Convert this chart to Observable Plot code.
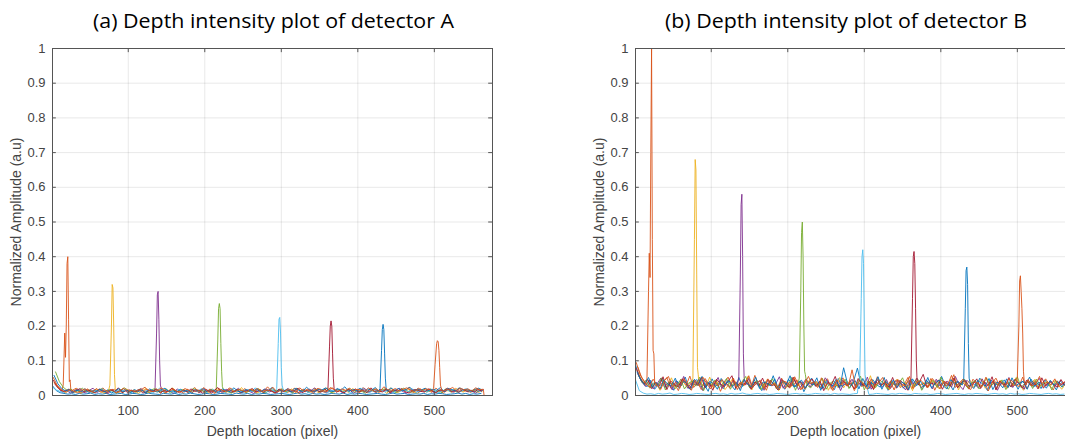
<!DOCTYPE html>
<html>
<head>
<meta charset="utf-8">
<script src="https://cdn.jsdelivr.net/npm/d3@7"></script>
<script src="https://cdn.jsdelivr.net/npm/@observablehq/plot@0.6"></script>
<style>
  html, body { margin: 0; padding: 0; background: #fff; }
  body { width: 1065px; height: 441px; overflow: hidden; position: relative; }
  .panel { position: absolute; top: 0; width: 500px; height: 441px; }
  .panel svg { max-width: none !important; }
  #titles { position: absolute; left: 0; top: 0; }
</style>
</head>
<body>
<div id="pa" class="panel" style="left:0px"></div>
<div id="pb" class="panel" style="left:583px"></div>
<svg id="titles" width="1065" height="40"></svg>
<script>
// ---------------- DATA ----------------
const titleA = "(a) Depth intensity plot of detector A";
const titleB = "(b) Depth intensity plot of detector B";
const xLabel = "Depth location (pixel)";
const yLabel = "Normalized Amplitude (a.u)";
const xTicks = [100, 200, 300, 400, 500];
const yTicks = [0, 0.1, 0.2, 0.3, 0.4, 0.5, 0.6, 0.7, 0.8, 0.9, 1];
const seriesColors = ["#0072BD", "#D95319", "#EDB120", "#7E2F8E", "#77AC30", "#4DBEEE", "#A2142F", "#0072BD", "#D95319"];

// noise floor per series (per-mille of full scale), one sample every 5 depth pixels
const noiseA1 = [28,14,8,6,4,5,3,6,4,5,7,3,5,4,6,3,4,5,6,3,4,6,5,3,4,7,5,4,3,6,5,4,6,3,5,4,7,5,3,4,6,5,3,4,6,5,4,3,7,5,4,6,3,5,4,6,5,3,4,5,6,4,3,5,7,4,5,3,6,4,5,3,4,6,5,4,7,3,5,4,6,5,3,4,5,6,4,3,5,7,4,5,6,3,4,5,4,6,3,5,4,6,5,3,4,5,7,4,6,3,5,4,6];
const noiseA2 = [52,30,18,24,9,15,21,7,13,19,8,16,11,22,6,14,18,9,12,20,7,15,10,17,24,8,13,19,6,16,11,21,9,14,7,18,12,23,8,15,10,19,6,13,17,9,22,11,14,7,20,12,16,8,18,10,25,13,7,15,19,9,12,21,8,16,11,14,6,20,13,9,17,22,10,15,7,19,12,16,8,23,11,14,18,9,13,20,7,15,10,17,12,24,8,16,19,11,14,9,21,13,7,18,15,10,22,12,16,9,14,19,11];
const noiseA3 = [38,22,14,8,17,11,20,6,13,16,9,19,12,7,15,21,10,14,8,18,12,16,6,13,20,9,15,11,18,7,14,22,10,13,17,8,12,19,9,16,11,6,15,20,12,8,17,13,10,23,9,14,18,7,12,16,11,20,8,13,15,9,19,12,6,17,14,10,21,8,13,16,11,7,18,12,15,9,20,14,10,17,8,13,19,11,15,6,22,12,9,16,14,18,10,7,13,20,11,15,8,17,12,14,9,21,13,10,16,12,18,9,14];
const noiseA4 = [33,20,10,16,7,13,19,11,8,15,21,9,14,12,6,17,10,13,20,8,15,11,18,7,12,16,9,22,13,10,14,6,19,11,15,8,17,12,9,20,13,7,16,10,14,18,8,12,21,9,15,11,6,17,13,19,10,14,8,16,12,20,9,13,7,18,11,15,22,10,14,8,16,12,19,9,13,17,7,11,15,20,10,14,8,18,12,16,9,13,21,11,7,15,17,10,14,12,19,8,13,16,11,20,9,14,12,18,10,15,7,13,17];
const noiseA5 = [68,40,24,15,19,9,14,21,11,16,8,13,20,10,17,12,7,15,22,11,14,9,18,13,8,16,20,10,12,19,7,15,11,17,14,9,21,12,16,8,13,19,10,15,24,11,7,14,18,12,9,16,13,20,10,8,17,12,15,19,11,14,7,21,13,16,9,12,18,10,15,22,8,13,17,11,14,20,9,16,12,7,18,13,10,15,19,11,14,8,16,21,12,9,17,13,15,10,19,11,14,8,20,12,16,9,13,18,11,15,10,17,12];
const noiseA6 = [24,16,12,9,15,7,13,18,10,14,8,16,11,20,9,13,6,15,12,17,10,8,14,19,11,16,7,13,21,10,15,12,9,18,11,14,8,16,13,20,9,12,17,10,14,7,15,19,11,13,8,16,12,22,10,14,9,18,13,11,15,7,17,12,20,10,14,8,16,13,19,11,9,15,12,18,10,14,7,16,13,21,11,9,17,12,15,10,19,8,14,12,16,11,20,9,13,15,10,18,12,8,14,17,11,16,9,13,19,12,10,15,11];
const noiseA7 = [44,26,15,11,18,8,14,20,10,16,12,7,19,13,9,17,11,22,8,14,16,10,13,20,7,15,12,18,9,14,11,21,13,8,16,10,19,12,15,7,17,11,14,23,9,13,16,10,18,8,12,15,20,11,14,9,17,13,7,19,10,16,12,14,21,8,13,18,11,15,9,20,12,16,10,14,7,17,13,19,11,15,8,22,12,14,10,18,9,16,13,20,11,7,15,17,12,10,19,14,8,16,13,21,11,15,9,18,12,14,10,17,13];
const noiseA8 = [58,34,20,13,17,9,15,11,19,8,14,12,18,10,16,7,13,20,11,15,9,17,12,14,8,19,13,10,16,21,11,14,9,18,12,15,7,17,13,20,10,16,12,8,19,14,11,22,13,9,17,15,12,20,10,18,14,23,11,16,13,19,9,21,15,12,24,14,10,18,16,22,13,11,20,15,25,12,17,14,21,10,19,16,23,13,18,11,22,15,20,14,17,24,12,19,16,21,13,18,15,23,11,20,17,14,22,16,19,12,18,21,15];
const noiseA9 = [36,22,14,10,17,12,8,15,19,11,13,20,9,16,12,18,7,14,21,10,15,12,17,9,19,13,11,16,22,8,14,18,12,10,20,15,9,17,13,23,11,16,8,19,14,12,21,10,17,15,9,18,13,20,11,16,14,24,10,17,12,19,15,9,22,13,18,11,16,20,14,10,23,17,12,19,15,21,13,18,16,11,22,14,19,12,25,17,15,20,13,18,22,16,11,21,14,19,17,24,12,20,15,18,23,14,21,16,19,13,22,17,18];

const noiseB1 = [88,55,38,25,44,18,33,50,22,39,15,41,28,53,19,35,46,24,31,12,48,27,37,20,43,30,16,52,26,38,21,45,33,14,40,29,57,23,36,18,47,32,25,42,11,34,50,27,39,20,44,30,17,49,25,36,22,41,79,28,35,19,46,31,24,52,15,38,29,43,21,37,48,26,33,18,45,30,40,23,55,28,35,16,42,31,47,20,38,26,50,33,14,44,29,36,22,48,25,39,18,41,32,53,24,37,20,45,28,34,16,43,30];
const noiseB2 = [95,60,42,30,18,47,26,39,52,21,35,14,44,29,56,23,38,17,49,31,25,42,12,36,53,27,40,19,46,33,22,58,28,37,15,44,31,24,50,20,39,27,45,16,34,55,29,41,22,37,48,18,33,26,51,30,43,14,38,25,47,32,20,54,28,40,17,36,45,23,31,52,19,42,29,35,24,49,15,38,44,27,33,60,22,40,30,18,47,35,25,41,13,36,50,28,39,21,45,32,26,53,19,37,43,24,34,48,29,16,42,31,38];
const noiseB3 = [72,48,30,40,22,36,15,45,28,51,19,34,42,25,38,13,47,31,26,53,20,37,44,17,32,49,24,39,28,55,16,41,33,23,46,29,37,14,43,30,21,50,27,35,18,44,32,39,24,48,15,36,28,52,22,40,31,19,45,34,26,57,20,38,29,43,17,35,47,25,33,41,14,50,28,37,22,46,31,19,42,34,27,53,16,39,30,45,23,36,48,21,33,40,18,44,29,37,25,51,32,15,42,28,47,20,35,39,26,43,31,18,37];
const noiseB4 = [62,40,26,45,19,33,50,24,38,16,43,29,55,21,36,31,47,14,40,27,34,52,20,37,25,44,18,39,30,49,23,35,42,15,46,28,33,54,21,38,27,45,17,32,48,24,41,30,19,51,36,26,43,14,39,31,47,22,35,28,53,18,40,33,25,46,20,37,44,29,16,42,34,50,23,31,38,19,47,27,36,41,24,55,30,17,44,33,39,21,48,26,35,42,15,37,29,52,23,40,32,18,45,28,36,49,21,34,41,26,38,30,44];
const noiseB5 = [58,36,44,21,37,28,51,16,39,32,24,47,19,35,42,27,53,14,38,30,45,22,33,49,18,40,26,36,55,23,31,43,17,38,29,48,20,34,41,25,52,15,37,30,44,22,39,27,50,18,35,42,24,33,47,20,38,29,56,16,40,31,23,45,36,19,43,28,34,51,21,37,26,46,15,39,32,44,24,53,30,18,41,35,27,48,22,36,43,19,33,50,25,38,29,45,17,40,31,54,23,36,42,20,47,28,34,39,16,44,30,25,41];
const noiseB6 = [45,14,7,4,5,3,6,4,5,7,3,4,6,5,3,4,6,5,4,3,5,6,4,5,3,6,4,5,7,4,3,5,6,4,5,3,4,6,5,4,3,5,6,4,5,3,4,6,5,4,5,3,6,4,5,4,3,5,6,4,5,3,4,6,5,4,3,5,4,6,5,4,3,6,5,4,5,3,4,6,5,3,4,5,6,4,3,5,4,6,5,4,3,5,6,4,5,3,6,4,5,3,4,6,5,4,3,5,6,4,5,3,4];
const noiseB7 = [78,50,33,46,20,39,28,54,17,42,31,25,48,36,19,44,29,52,22,38,15,47,33,26,41,57,21,35,30,45,18,39,27,50,24,43,32,16,46,37,23,53,29,40,20,35,48,26,42,14,38,31,55,22,44,28,36,19,49,33,25,41,17,46,30,38,24,52,21,43,34,15,47,28,39,61,23,36,32,45,18,40,27,50,22,37,43,26,33,48,20,39,29,54,16,42,31,36,25,47,35,21,44,30,38,19,51,27,40,33,24,46,29];
const noiseB8 = [68,44,31,52,24,38,19,45,33,27,50,21,40,36,16,47,29,55,23,41,34,18,49,30,43,26,37,14,46,32,25,53,20,39,35,28,48,17,42,31,57,24,36,44,21,38,30,51,15,40,33,27,46,22,80,35,29,43,19,49,26,37,32,54,18,41,28,45,23,39,34,16,48,30,42,25,52,21,37,44,28,19,46,33,40,24,55,31,20,43,36,27,49,17,39,32,45,23,51,29,35,42,18,47,26,38,33,21,44,30,40,25,36];
const noiseB9 = [82,52,36,24,47,30,18,43,55,26,38,21,49,32,15,44,28,53,35,19,41,27,46,33,22,50,17,39,31,57,24,36,44,20,48,29,34,16,42,38,25,54,30,19,46,33,40,23,51,28,36,14,45,31,39,26,74,21,43,34,18,48,29,37,52,24,41,16,46,33,27,55,20,38,44,30,25,49,35,19,42,31,58,23,36,47,28,17,40,34,26,53,21,45,32,38,24,50,29,43,18,37,46,27,34,55,22,40,31,48,25,36,42];

// reflection peaks [depth pixel, amplitude] per series
const peaksA = [
  [],
  [[13,0.012],[15,0.03],[17,0.18],[18,0.11],[19,0.2],[20,0.38],[21,0.40],[22,0.22],[23,0.04],[24,0.045],[25,0.015]],
  [[74,0.012],[76,0.03],[78,0.2],[79,0.32],[80,0.31],[81,0.2],[82,0.06],[83,0.02],[85,0.012]],
  [[133,0.01],[135,0.02],[137,0.18],[138,0.29],[139,0.30],[140,0.22],[141,0.1],[142,0.03],[144,0.012]],
  [[213,0.012],[215,0.02],[217,0.16],[218,0.25],[219,0.265],[220,0.25],[221,0.15],[222,0.07],[223,0.025],[225,0.015]],
  [[292,0.012],[294,0.02],[296,0.15],[297,0.22],[298,0.225],[299,0.18],[300,0.08],[301,0.03],[303,0.012]],
  [[359,0.012],[361,0.02],[363,0.14],[364,0.2],[365,0.215],[366,0.2],[367,0.12],[368,0.05],[369,0.02],[371,0.012]],
  [[427,0.012],[429,0.02],[431,0.13],[432,0.19],[433,0.205],[434,0.19],[435,0.12],[436,0.05],[437,0.02],[439,0.012]],
  [[497,0.012],[499,0.02],[501,0.09],[503,0.15],[504,0.158],[505,0.155],[506,0.13],[507,0.08],[508,0.03],[510,0.012]]
];
const peaksB = [
  [],
  [[14,0.03],[16,0.05],[18,0.30],[19,0.41],[20,0.34],[21,0.70],[22,1.0],[23,0.45],[24,0.13],[25,0.12],[26,0.04],[27,0.03]],
  [[74,0.03],[76,0.05],[78,0.45],[79,0.68],[80,0.65],[81,0.35],[82,0.08],[83,0.06],[84,0.03]],
  [[134,0.03],[136,0.05],[138,0.35],[139,0.55],[140,0.58],[141,0.4],[142,0.12],[143,0.05],[145,0.03]],
  [[213,0.03],[215,0.05],[217,0.3],[218,0.47],[219,0.50],[220,0.4],[221,0.2],[222,0.07],[223,0.06],[225,0.03]],
  [[292,0.03],[294,0.05],[296,0.28],[297,0.40],[298,0.42],[299,0.38],[300,0.2],[301,0.06],[303,0.03]],
  [[359,0.03],[361,0.05],[363,0.28],[364,0.40],[365,0.415],[366,0.38],[367,0.25],[368,0.1],[369,0.04],[371,0.03]],
  [[428,0.03],[430,0.05],[432,0.25],[433,0.36],[434,0.37],[435,0.32],[436,0.15],[437,0.05],[439,0.03]],
  [[498,0.03],[500,0.05],[502,0.2],[503,0.33],[504,0.345],[505,0.3],[506,0.25],[507,0.18],[508,0.07],[509,0.04],[511,0.03]]
];
// zero-padded tail after the last recorded depth sample
const tailA = [[565, 0], [576, 0]];
const tailB = [[565, 0], [576, 0]];

const xDomain = [1, 576];
const sampleStep = 5;
const lastSample = 564;

// ---------------- BUILD ----------------
function buildSeries(noiseList, peaks, tail) {
  return noiseList.map((arr, k) => {
    const pk = peaks[k];
    const lo = pk.length ? pk[0][0] : Infinity;
    const hi = pk.length ? pk[pk.length - 1][0] : -Infinity;
    let pts = arr.map((v, i) => [1 + (k % sampleStep) + sampleStep * i, v / 1000])
      .filter(([x]) => x <= lastSample && (x < lo || x > hi));
    pts = pts.concat(pk);
    if (k === noiseList.length - 1) pts = pts.concat(tail);
    pts.sort((a, b) => a[0] - b[0]);
    return pts.map(([x, y]) => ({x, y}));
  });
}

const seriesA = buildSeries([noiseA1,noiseA2,noiseA3,noiseA4,noiseA5,noiseA6,noiseA7,noiseA8,noiseA9], peaksA, tailA);
const seriesB = buildSeries([noiseB1,noiseB2,noiseB3,noiseB4,noiseB5,noiseB6,noiseB7,noiseB8,noiseB9], peaksB, tailB);

function panel(series) {
  const axisColor = "#555";
  const svg = Plot.plot({
    width: 500, height: 441,
    marginLeft: 52, marginRight: 8, marginTop: 48, marginBottom: 46,
    style: {fontFamily: "'Liberation Sans', Arial, sans-serif", fontSize: "13px", color: "#444", background: "transparent"},
    x: {domain: xDomain},
    y: {domain: [0, 1]},
    marks: [
      Plot.gridX(xTicks, {stroke: "#000", strokeOpacity: 0.09}),
      Plot.gridY(yTicks, {stroke: "#000", strokeOpacity: 0.09}),
      ...series.map((pts, k) => Plot.line(pts, {x: "x", y: "y", stroke: seriesColors[k], strokeWidth: 1, strokeOpacity: 0.9, clip: true})),
      Plot.frame({stroke: axisColor, strokeWidth: 1}),
      Plot.ruleX(xTicks, {x: d => d, y1: 0, y2: 0.012, stroke: axisColor}),
      Plot.ruleX(xTicks, {x: d => d, y1: 0.988, y2: 1, stroke: axisColor}),
      Plot.ruleY(yTicks, {y: d => d, x1: 1, x2: 6, stroke: axisColor}),
      Plot.ruleY(yTicks, {y: d => d, x1: 571, x2: 576, stroke: axisColor}),
      Plot.axisX(xTicks, {tickSize: 0, tickPadding: 10, fontSize: 13, label: xLabel, labelAnchor: "center", labelArrow: "none", labelOffset: 40}),
      Plot.axisY(yTicks, {tickSize: 0, tickPadding: 7, fontSize: 13, tickFormat: d => String(+d.toFixed(1)), label: yLabel, labelAnchor: "center", labelArrow: "none", labelOffset: 41})
    ]
  });
  svg.style.maxWidth = "none";
  svg.querySelectorAll("text").forEach(t => {
    if (t.textContent === xLabel || t.textContent === yLabel) t.setAttribute("font-size", "14");
  });
  return svg;
}

document.getElementById("pa").appendChild(panel(seriesA));
document.getElementById("pb").appendChild(panel(seriesB));

// titles
const tsvg = d3.select("#titles");
[[titleA, 93, 361], [titleB, 665, 362]].forEach(([t, x, w]) => {
  tsvg.append("text").attr("x", x).attr("y", 28)
    .attr("font-family", "'Open Sans', 'Noto Sans', sans-serif").attr("font-size", 20)
    .attr("fill", "#000").attr("textLength", w).attr("lengthAdjust", "spacingAndGlyphs")
    .text(t);
});
</script>
</body>
</html>
